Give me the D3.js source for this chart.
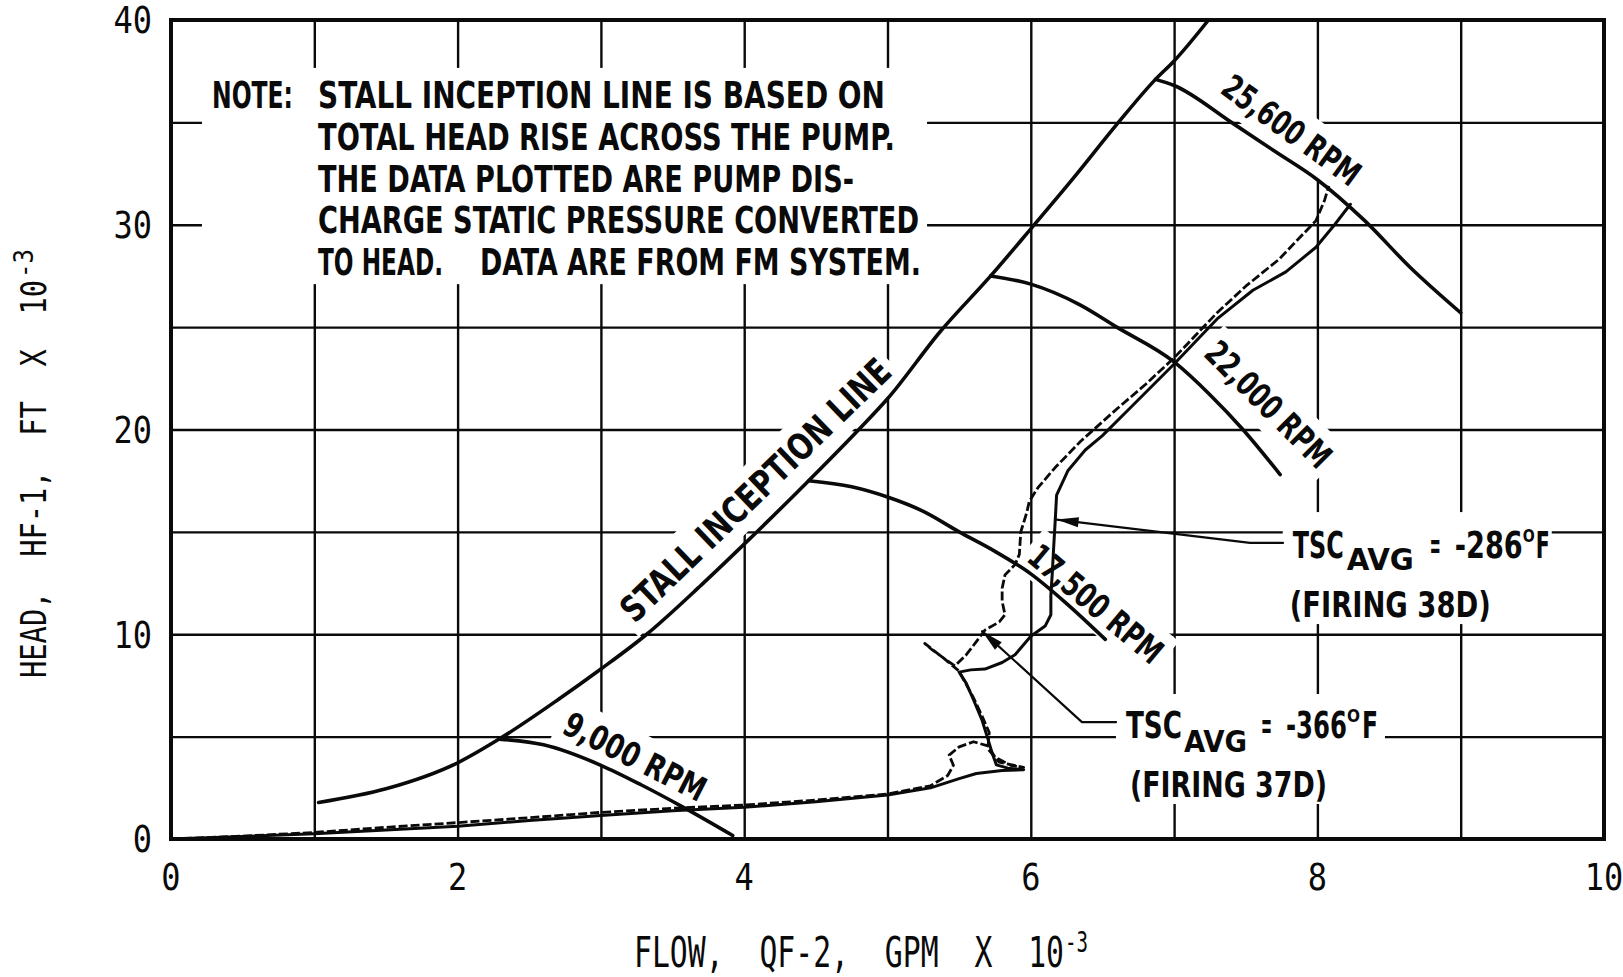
<!DOCTYPE html>
<html><head><meta charset="utf-8">
<script src="https://cdn.jsdelivr.net/npm/d3@7"></script>
<style>html,body{margin:0;padding:0;background:#fff;} svg{display:block}</style>
</head><body>
<svg id="chart" width="1623" height="977"></svg>
<script>
// ---------- data ----------
const xTicks = [0, 2, 4, 6, 8, 10];
const yTicks = [0, 10, 20, 30, 40];
const xGrid = [1, 2, 3, 4, 5, 6, 7, 8, 9];
const yGrid = [5, 10, 15, 20, 25, 30, 35];

const stallLine = [[1.03,1.78],[1.5,2.45],[2.0,3.72],[2.29,4.88],[2.7,6.8],[3.0,8.3],[3.32,10.0],[3.7,12.4],[4.0,14.4],[4.45,17.5],[4.8,20.0],[5.0,21.5],[5.37,24.8],[5.72,27.5],[6.0,29.8],[6.3,32.3],[6.6,34.9],[6.87,37.1],[7.0,38.0],[7.24,40.0]];
const rpm9000 = [[2.29,4.88],[2.6,4.6],[3.0,3.6],[3.28,2.65],[3.57,1.57],[3.92,0.17]];
const rpm17500 = [[4.45,17.5],[4.75,17.2],[5.0,16.7],[5.25,16.0],[5.5,15.0],[5.75,14.05],[6.0,12.95],[6.25,11.5],[6.52,9.75]];
const rpm22000 = [[5.72,27.5],[6.0,27.1],[6.34,26.1],[6.6,25.0],[7.0,23.3],[7.25,21.7],[7.48,20.0],[7.74,17.8]];
const rpm25600 = [[6.87,37.1],[7.0,36.8],[7.4,35.0],[7.7,33.6],[8.0,32.2],[8.33,30.2],[8.65,27.9],[9.0,25.7]];

const firing38D = [[0,0],[0.5,0.12],[1,0.26],[1.5,0.44],[2,0.62],[2.5,0.9],[3,1.15],[3.5,1.38],[4,1.55],[4.5,1.82],[5,2.15],[5.3,2.5],[5.5,2.95],[5.62,3.2],[5.8,3.35],[5.95,3.38],[5.84,3.46],[5.76,3.62],[5.73,4.2],[5.7,4.9],[5.66,5.8],[5.6,6.8],[5.55,7.6],[5.5,8.15],[5.58,8.26],[5.68,8.3],[5.8,8.62],[5.89,9.0],[6.0,9.9],[6.1,10.4],[6.14,10.95],[6.14,11.9],[6.15,13.0],[6.16,14.3],[6.17,15.5],[6.18,16.8],[6.26,18.0],[6.38,19.0],[6.5,19.7],[6.7,21.1],[7.0,23.2],[7.3,25.4],[7.55,26.8],[7.78,27.7],[7.99,28.9],[8.12,30.0],[8.23,31.0]];
const firing37D = [[0,0],[0.5,0.14],[1,0.32],[1.5,0.57],[2,0.8],[2.5,1.04],[3,1.3],[3.5,1.5],[4,1.66],[4.5,1.9],[5,2.2],[5.3,2.6],[5.42,3.1],[5.46,3.6],[5.43,4.1],[5.5,4.5],[5.6,4.75],[5.7,4.55],[5.75,4.0],[5.86,3.6],[5.95,3.5],[5.78,3.75],[5.7,4.4],[5.71,5.2],[5.66,6.0],[5.6,6.9],[5.53,7.8],[5.5,8.2],[5.38,8.9],[5.26,9.55],[5.31,9.25],[5.47,8.45],[5.55,9.0],[5.62,9.64],[5.68,10.2],[5.78,10.6],[5.82,10.95],[5.8,11.6],[5.8,12.25],[5.82,12.9],[5.89,13.4],[5.92,13.9],[5.93,15.0],[5.97,15.9],[5.99,16.5],[6.05,17.16],[6.17,18.14],[6.35,19.44],[6.6,21.0],[6.8,22.2],[7.0,23.5],[7.3,25.7],[7.5,27.0],[7.73,28.3],[7.99,30.2],[8.05,31.2],[8.08,31.9]];

const noteLines = ["TOTAL HEAD RISE ACROSS THE PUMP.","THE DATA PLOTTED ARE PUMP DIS-","CHARGE STATIC PRESSURE CONVERTED"];

// ---------- drawing ----------
const svg = d3.select("#chart");
const X0 = 171, X1 = 1604, Y0 = 839, Y1 = 20;
const x = d3.scaleLinear().domain([0, 10]).range([X0, X1]);
const y = d3.scaleLinear().domain([0, 40]).range([Y0, Y1]);
const INK = "#0a0a0a";
const COND = "'Liberation Sans Narrow','DejaVu Sans Condensed','Liberation Sans',Arial,sans-serif";
const MONO = "'DejaVu Sans Mono','Liberation Mono',monospace";

svg.append("rect").attr("width", 1623).attr("height", 977).attr("fill", "#fff");

// grid
const gx = svg.append("g").attr("transform", `translate(0,${Y0})`)
  .call(d3.axisBottom(x).tickValues(xGrid).tickSize(-(Y0 - Y1)).tickFormat(""));
const gy = svg.append("g").attr("transform", `translate(${X0},0)`)
  .call(d3.axisLeft(y).tickValues(yGrid).tickSize(-(X1 - X0)).tickFormat(""));
[gx, gy].forEach(g => {
  g.select(".domain").remove();
  g.selectAll("line").attr("stroke", INK).attr("stroke-width", 2.4);
});

// white backing boxes (cut the grid like the pasted labels in the original)
const boxes = svg.append("g").attr("fill", "#fff");
boxes.append("rect")
  .attr("x", x(0.216)).attr("y", y(37.66))
  .attr("width", x(5.276) - x(0.216)).attr("height", y(27.1) - y(37.66));

const rotLabels = [
  {t: "25,600 RPM", d: [7.77, 34.14], a: 36, len: 162, size: 34},
  {t: "22,000 RPM", d: [7.60, 20.81], a: 45, len: 163, size: 34},
  {t: "17,500 RPM", d: [6.40, 11.04], a: 40, len: 164, size: 34},
  {t: "9,000 RPM",  d: [3.20, 3.50],  a: 27, len: 155, size: 34},
  {t: "STALL INCEPTION LINE", d: [4.14, 16.6], a: -44, len: 360, size: 36}
];
rotLabels.forEach(l => {
  const cap = l.size * 0.72;
  boxes.append("rect")
    .attr("transform", `translate(${x(l.d[0])},${y(l.d[1])}) rotate(${l.a})`)
    .attr("x", -l.len / 2 - 6).attr("y", -cap - 12)
    .attr("width", l.len + 12).attr("height", cap + 12 + 12);
});

const tsc = [
  {anchor: [7.80, 13.72], box: [-6, -46, 269, 112]},
  {anchor: [6.664, 4.933], box: [-10, -44, 269, 110]}
];
tsc.forEach(s => {
  boxes.append("rect")
    .attr("x", x(s.anchor[0]) + s.box[0]).attr("y", y(s.anchor[1]) + s.box[1])
    .attr("width", s.box[2]).attr("height", s.box[3]);
});

// curves
const smooth = d3.line().x(d => x(d[0])).y(d => y(d[1])).curve(d3.curveMonotoneX);
const jag = d3.line().x(d => x(d[0])).y(d => y(d[1]));
const curves = svg.append("g").attr("fill", "none").attr("stroke", INK)
  .attr("stroke-linecap", "round").attr("stroke-linejoin", "round");
[stallLine, rpm9000, rpm17500, rpm22000, rpm25600].forEach(c => {
  curves.append("path").datum(c).attr("d", smooth).attr("stroke-width", 3.6);
});
curves.append("path").datum(firing38D).attr("d", jag).attr("stroke-width", 3);
curves.append("path").datum(firing37D).attr("d", jag).attr("stroke-width", 2.8)
  .attr("stroke-dasharray", "9,3").attr("stroke-linecap", "butt");

// leaders with arrowheads
function leader(pts) {
  const p = pts.map(d => [x(d[0]), y(d[1])]);
  curves.append("path").attr("d", d3.line()(p)).attr("stroke-width", 2.2);
  const [tx, ty] = p[0], [nx, ny] = p[1];
  const ang = Math.atan2(ny - ty, nx - tx);
  const L = 22, W = 5;
  const bx = tx + L * Math.cos(ang), by = ty + L * Math.sin(ang);
  const px = -Math.sin(ang) * W, py = Math.cos(ang) * W;
  svg.append("path")
    .attr("d", `M${tx},${ty}L${bx + px},${by + py}L${bx - px},${by - py}Z`)
    .attr("fill", INK);
}
leader([[6.18, 15.6], [7.53, 14.46], [7.76, 14.46]]);
leader([[5.66, 10.15], [6.357, 5.71], [6.595, 5.71]]);

// frame
svg.append("rect").attr("x", X0).attr("y", Y1).attr("width", X1 - X0).attr("height", Y0 - Y1)
  .attr("fill", "none").attr("stroke", INK).attr("stroke-width", 4);

// tick labels
const tl = svg.append("g").attr("font-family", MONO).attr("font-size", 32).attr("fill", INK);
xTicks.forEach(v => {
  tl.append("text").attr("transform", `translate(${x(v)},890) scale(1,1.15)`)
    .attr("text-anchor", "middle").text(v);
});
yTicks.forEach(v => {
  tl.append("text").attr("transform", `translate(152,${y(v) + 13.4}) scale(1,1.15)`)
    .attr("text-anchor", "end").text(v);
});

// axis titles: main run + superscript in one text element
function title(main, len, sup, supX, supDy, supSize, supLen, tr, size) {
  const e = svg.append("text").attr("transform", tr).attr("font-family", MONO)
    .attr("font-size", size).attr("fill", INK).style("white-space", "pre");
  e.append("tspan").attr("x", 0).attr("y", 0).attr("textLength", len)
    .attr("lengthAdjust", "spacingAndGlyphs").text(main);
  e.append("tspan").attr("x", supX).attr("y", supDy).attr("font-size", supSize)
    .attr("textLength", supLen).attr("lengthAdjust", "spacingAndGlyphs").text(sup);
}
title("FLOW,  QF-2,  GPM  X  10", 430, "-3", 431, -10.5, 20, 23, "translate(634,967) scale(1,1.42)", 30);
title("HEAD,  HF-1,  FT  X  10", 398, "-3", 400, -10.5, 22, 29, "translate(46,678) rotate(-90) scale(1,1.2)", 30);

// condensed multi-part text: parts = [text, x, y, size, len]
function ctext(parts, tr) {
  const e = svg.append("text").attr("font-family", COND).attr("font-weight", "bold")
    .attr("fill", INK).style("white-space", "pre");
  if (tr) e.attr("transform", tr);
  parts.forEach(p => {
    e.append("tspan").attr("x", p[1]).attr("y", p[2]).attr("font-size", p[3])
      .attr("textLength", p[4]).attr("lengthAdjust", "spacingAndGlyphs").text(p[0]);
  });
  return e;
}

// note
ctext([["NOTE:", 212, 108, 38, 81], ["STALL INCEPTION LINE IS BASED ON", 318, 108, 38, 567]]);
const noteLens = [577, 536, 601];
const noteBase = [150, 192, 233];
noteLines.forEach((t, i) => ctext([[t, 318, noteBase[i], 38, noteLens[i]]]));
ctext([["TO HEAD.", 318, 275, 38, 125], ["DATA ARE FROM FM SYSTEM.", 480, 275, 38, 441]]);

// rotated labels
rotLabels.forEach(l => {
  ctext([[l.t, -l.len / 2, 0, l.size, l.len]], `translate(${x(l.d[0])},${y(l.d[1])}) rotate(${l.a})`);
});

// TSC labels
const tscParts = [
  [[["TSC", 4, 0, 38, 51], ["AVG", 58, 12, 31, 67], ["=", 141, 0, 38, 11], ["-286", 166, 0, 38, 68],
    ["O", 234, -16, 18, 12], ["F", 247, 0, 38, 14]], [["(FIRING 38D)", 1, 59, 36, 201]]],
  [[["TSC", 0, 0, 38, 56], ["AVG", 58, 14, 31, 63], ["=", 135, 0, 38, 11], ["-366", 160, 0, 38, 61],
    ["O", 221, -16, 18, 13], ["F", 236, 0, 38, 16]], [["(FIRING 37D)", 4, 59, 36, 197]]]
];
tsc.forEach((s, i) => {
  const tr = `translate(${x(s.anchor[0])},${y(s.anchor[1])})`;
  tscParts[i].forEach(line => ctext(line, tr));
});
</script>
</body></html>
